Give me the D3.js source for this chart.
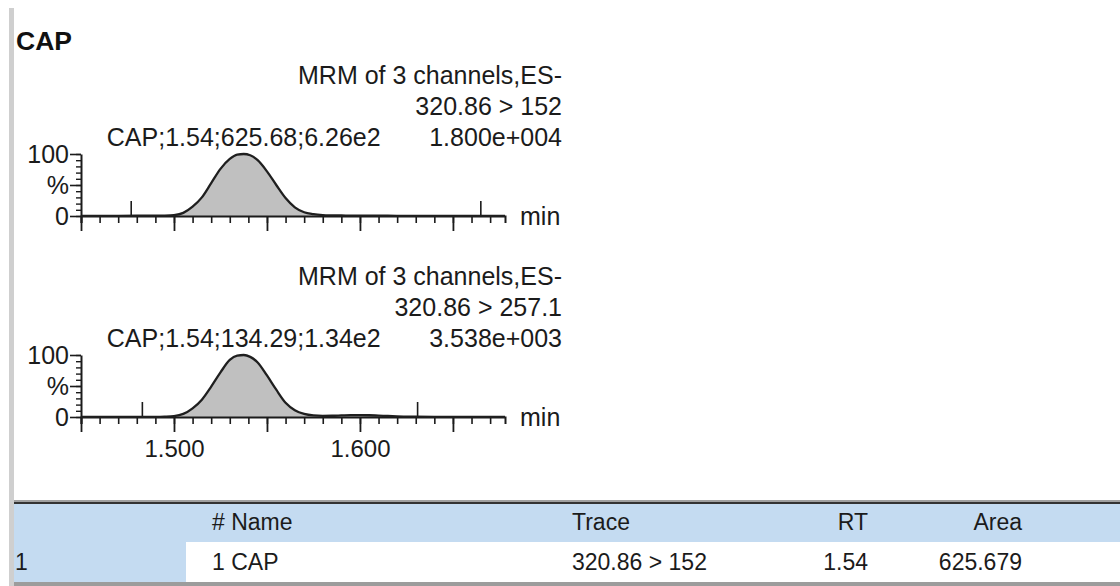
<!DOCTYPE html>
<html>
<head>
<meta charset="utf-8">
<script src="https://cdn.jsdelivr.net/npm/d3@7"></script>
<style>
  html, body { margin: 0; padding: 0; background: #fff; }
  svg { display: block; font-family: "Liberation Sans", Arial, sans-serif; }
</style>
</head>
<body>
<svg id="chart" width="1120" height="586"></svg>
<script>
// ---- Chromatogram data (retention time in min, response in % of channel full scale) ----
const compound = "CAP";
const retentionTime = [1.450, 1.460, 1.470, 1.480, 1.490, 1.495, 1.500, 1.505, 1.510, 1.515,
  1.520, 1.525, 1.530, 1.534, 1.5375, 1.541, 1.545, 1.550, 1.555, 1.560,
  1.565, 1.570, 1.575, 1.580, 1.585, 1.590, 1.595, 1.600, 1.605, 1.610,
  1.615, 1.620, 1.630, 1.640, 1.650, 1.660, 1.670, 1.678];
const response152 = [0.3, 0.3, 0.3, 0.4, 0.5, 0.7, 1.5, 5, 15, 30,
  53, 76, 92, 99, 100, 98, 90, 72, 50, 29,
  14, 6, 3, 1.5, 1, 0.8, 0.6, 0.5, 0.5, 0.4,
  0.4, 0.3, 0.3, 0.3, 0.2, 0.2, 0.2, 0.2];
const response257 = [0.3, 0.3, 0.3, 0.3, 0.3, 0.6, 1.5, 5, 14, 28,
  49, 72, 92, 99, 100, 97, 88, 67, 44, 23,
  11, 5, 2.5, 1.8, 2, 2.5, 3, 3, 2.8, 2.2,
  1.6, 1, 0.5, 0.3, 0.3, 0.3, 0.3, 0.3];

// channel headers
const scanHeaders = ["MRM of 3 channels,ES-", "MRM of 3 channels,ES-"];
const transitions = ["320.86 > 152", "320.86 > 257.1"];
const fullScale = ["1.800e+004", "3.538e+003"];
const peakLabels = ["CAP;1.54;625.68;6.26e2", "CAP;1.54;134.29;1.34e2"];

// integration limits (min)
const peakStart = [1.477, 1.483];
const peakEnd = [1.665, 1.631];

// axis ticks
const xDomain = [1.450, 1.678];
const xMajorTicks = [1.45, 1.50, 1.55, 1.60, 1.65];
const xTickLabels = ["1.500", "1.600"];
const yMajorTicks = [0, 50, 100];
const yTickLabels = ["0", "%", "100"];
const xUnit = "min";

// peak table
const tableColumns = ["", "# Name", "Trace", "RT", "Area"];
const tableRow = ["1", "1 CAP", "320.86 > 152", "1.54", "625.679"];

// ---- drawing ----
const svg = d3.select("#chart");
const ink = "#1b1b1b";

// report gutter
svg.append("rect").attr("x", 9).attr("y", 8).attr("width", 5).attr("height", 578)
  .attr("fill", "#cfcfcf");

// compound title
svg.append("text").attr("x", 16).attr("y", 50)
  .attr("font-size", 26.5).attr("font-weight", "bold").attr("fill", "#111")
  .text(compound);

const x = d3.scaleLinear().domain(xDomain).range([81, 505]);

const traces = [response152, response257];
const baselines = [216, 417];
const plotHeight = 62;

traces.forEach((values, i) => {
  const base = baselines[i];
  const y = d3.scaleLinear().domain([0, 100]).range([base, base - plotHeight]);
  const pts = retentionTime.map((t, k) => ({ t, v: values[k] }));
  const g = svg.append("g");

  // integrated area
  const inPeak = pts.filter(d => d.t >= peakStart[i] && d.t <= peakEnd[i]);
  g.append("path")
    .datum(inPeak)
    .attr("fill", "#c0c0c0")
    .attr("d", d3.area().x(d => x(d.t)).y0(y(0)).y1(d => y(d.v)).curve(d3.curveMonotoneX));

  // axes
  const minor = d3.axisBottom(x)
    .tickValues(d3.range(145, 168).map(d => d / 100))
    .tickSize(7).tickSizeOuter(7).tickFormat("");
  const gxMinor = g.append("g").attr("transform", `translate(0,${base})`).call(minor);
  gxMinor.select(".domain").attr("stroke", ink).attr("stroke-width", 2);
  gxMinor.selectAll(".tick line").attr("stroke", ink).attr("stroke-width", 1.6);

  const major = d3.axisBottom(x)
    .tickValues(xMajorTicks)
    .tickSize(15).tickSizeOuter(0)
    .tickFormat(d => {
      const s = d3.format(".3f")(d);
      return (i === traces.length - 1 && xTickLabels.includes(s)) ? s : "";
    });
  const gxMajor = g.append("g").attr("transform", `translate(0,${base})`).call(major);
  gxMajor.select(".domain").remove();
  gxMajor.selectAll(".tick line").attr("stroke", ink).attr("stroke-width", 1.8);
  gxMajor.selectAll(".tick text")
    .attr("y", 40).attr("dy", null)
    .attr("font-size", 24).attr("fill", ink).attr("font-family", null);

  const yMinor = d3.axisLeft(y).tickValues(d3.range(0, 101, 10)).tickSize(5)
    .tickSizeOuter(0).tickFormat("");
  const gyMinor = g.append("g").attr("transform", "translate(81,0)").call(yMinor);
  gyMinor.select(".domain").attr("stroke", ink).attr("stroke-width", 2);
  gyMinor.selectAll(".tick line").attr("stroke", ink).attr("stroke-width", 1.4);

  const yMajor = d3.axisLeft(y).tickValues(yMajorTicks).tickSize(11).tickPadding(1)
    .tickFormat((d, k) => yTickLabels[k]);
  const gyMajor = g.append("g").attr("transform", "translate(81,0)").call(yMajor);
  gyMajor.select(".domain").remove();
  gyMajor.selectAll(".tick line").attr("stroke", ink).attr("stroke-width", 1.6);
  gyMajor.selectAll(".tick text")
    .attr("font-size", 25).attr("fill", ink).attr("font-family", null);

  // integration markers
  g.selectAll("line.marker")
    .data([peakStart[i], peakEnd[i]])
    .join("line")
    .attr("class", "marker")
    .attr("x1", d => x(d)).attr("x2", d => x(d))
    .attr("y1", y(0)).attr("y2", y(0) - 15)
    .attr("stroke", ink).attr("stroke-width", 1.6);

  // trace
  g.append("path")
    .datum(pts)
    .attr("fill", "none")
    .attr("stroke", "#1f1f1f")
    .attr("stroke-width", 2.3)
    .attr("stroke-linejoin", "round")
    .attr("d", d3.line().x(d => x(d.t)).y(d => y(d.v)).curve(d3.curveMonotoneX));

  // unit
  g.append("text").attr("x", 520).attr("y", base + 9)
    .attr("font-size", 25).attr("fill", ink).text(xUnit);

  // header block
  const header = [scanHeaders[i], transitions[i], fullScale[i]];
  g.selectAll("text.hdr")
    .data(header)
    .join("text")
    .attr("class", "hdr")
    .attr("x", 562)
    .attr("y", (d, k) => base - 132 + k * 31)
    .attr("text-anchor", "end")
    .attr("font-size", 25).attr("fill", ink)
    .text(d => d);

  // peak annotation centred on the apex
  const apex = pts[d3.maxIndex(pts, d => d.v)];
  g.append("text")
    .attr("x", x(apex.t)).attr("y", base - 70)
    .attr("text-anchor", "middle")
    .attr("font-size", 25).attr("fill", ink)
    .text(peakLabels[i]);
});

// ---- peak table ----
const table = svg.append("g");
table.append("rect").attr("x", 14).attr("y", 500).attr("width", 1106).attr("height", 2).attr("fill", "#a0a0a0");
table.append("rect").attr("x", 14).attr("y", 502).attr("width", 1106).attr("height", 2).attr("fill", "#333");
table.append("rect").attr("x", 14).attr("y", 504).attr("width", 1106).attr("height", 38).attr("fill", "#c4dbf1");
table.append("rect").attr("x", 14).attr("y", 542).attr("width", 172).attr("height", 40).attr("fill", "#c4dbf1");
table.append("rect").attr("x", 14).attr("y", 582).attr("width", 1106).attr("height", 4).attr("fill", "#9c9c9c");

const colX = [15, 212, 572, 868, 1022];
const colAnchor = ["start", "start", "start", "end", "end"];
[tableColumns, tableRow].forEach((row, r) => {
  table.selectAll(`text.row${r}`)
    .data(row)
    .join("text")
    .attr("class", `row${r}`)
    .attr("x", (d, k) => colX[k])
    .attr("y", r === 0 ? 530 : 570)
    .attr("text-anchor", (d, k) => colAnchor[k])
    .attr("font-size", 23).attr("fill", ink)
    .text(d => d);
});
</script>
</body>
</html>
